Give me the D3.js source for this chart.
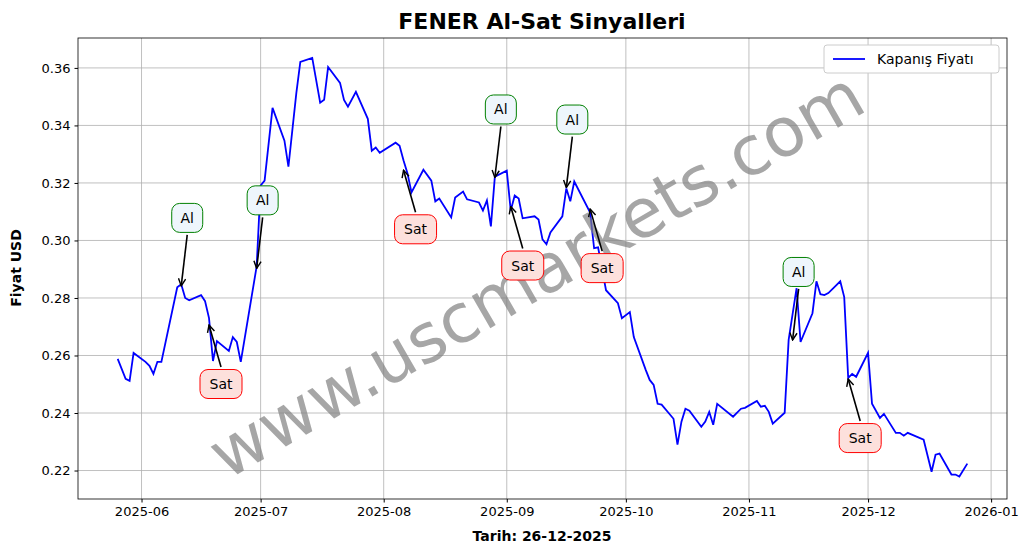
<!DOCTYPE html><html><head><meta charset="utf-8"><script src="https://cdn.jsdelivr.net/npm/d3@7"></script>
<style>body{margin:0;background:#fff}text{font-family:"DejaVu Sans",sans-serif}</style></head><body><svg id="c" width="1033" height="554"></svg>
<script>
const dates=["2025-05-26","2025-05-28","2025-05-29","2025-05-30","2025-06-02","2025-06-03","2025-06-04","2025-06-05","2025-06-06","2025-06-10","2025-06-11","2025-06-12","2025-06-13","2025-06-16","2025-06-17","2025-06-18","2025-06-19","2025-06-20","2025-06-23","2025-06-24","2025-06-25","2025-06-26","2025-06-30","2025-07-01","2025-07-02","2025-07-04","2025-07-07","2025-07-08","2025-07-10","2025-07-11","2025-07-14","2025-07-16","2025-07-17","2025-07-18","2025-07-21","2025-07-22","2025-07-23","2025-07-25","2025-07-28","2025-07-29","2025-07-30","2025-07-31","2025-08-04","2025-08-05","2025-08-06","2025-08-07","2025-08-08","2025-08-11","2025-08-13","2025-08-14","2025-08-15","2025-08-18","2025-08-19","2025-08-21","2025-08-22","2025-08-25","2025-08-26","2025-08-27","2025-08-28","2025-08-29","2025-09-01","2025-09-02","2025-09-03","2025-09-04","2025-09-05","2025-09-08","2025-09-09","2025-09-10","2025-09-11","2025-09-12","2025-09-15","2025-09-16","2025-09-17","2025-09-18","2025-09-22","2025-09-23","2025-09-24","2025-09-26","2025-09-29","2025-09-30","2025-10-02","2025-10-03","2025-10-06","2025-10-07","2025-10-08","2025-10-09","2025-10-10","2025-10-13","2025-10-14","2025-10-15","2025-10-16","2025-10-17","2025-10-20","2025-10-21","2025-10-22","2025-10-23","2025-10-24","2025-10-28","2025-10-30","2025-10-31","2025-11-03","2025-11-04","2025-11-05","2025-11-06","2025-11-07","2025-11-10","2025-11-11","2025-11-13","2025-11-14","2025-11-17","2025-11-18","2025-11-19","2025-11-20","2025-11-21","2025-11-24","2025-11-25","2025-11-26","2025-11-27","2025-11-28","2025-12-01","2025-12-02","2025-12-04","2025-12-05","2025-12-08","2025-12-09","2025-12-10","2025-12-11","2025-12-15","2025-12-17","2025-12-18","2025-12-19","2025-12-22","2025-12-23","2025-12-24","2025-12-26"];
const prices=[.2588,.2519,.2512,.2609,.2578,.2564,.2536,.2578,.2578,.2837,.2848,.2800,.2792,.2810,.2789,.2730,.2581,.2650,.2616,.2664,.2647,.2578,.2910,.3191,.3208,.3461,.3347,.3257,.3513,.3621,.3635,.3479,.3489,.3603,.3548,.3489,.3465,.3517,.3423,.3312,.3323,.3305,.3340,.3329,.3278,.3233,.3167,.3246,.3208,.3136,.3146,.3080,.3149,.3170,.3143,.3132,.3104,.3139,.3049,.3222,.3243,.3104,.3156,.3146,.3077,.3084,.3073,.3004,.2987,.3028,.3084,.3181,.3136,.3205,.3097,.2973,.2976,.2827,.2782,.2730,.2751,.2664,.2550,.2515,.2498,.2432,.2429,.2380,.2290,.2370,.2415,.2408,.2352,.2370,.2404,.2359,.2432,.2387,.2415,.2418,.2442,.2422,.2425,.2404,.2363,.2401,.2654,.2834,.2647,.2747,.2858,.2813,.2810,.2817,.2858,.2803,.2522,.2536,.2526,.2609,.2432,.2383,.2397,.2331,.2331,.2321,.2331,.2307,.2196,.2255,.2259,.2186,.2186,.2179,.2224];
const buyDates=["2025-06-11","2025-06-30","2025-08-29","2025-09-16","2025-11-12"];
const buyValues=[.2842,.2903,.3219,.3184,.2654];
const sellDates=["2025-06-18","2025-08-06","2025-09-02","2025-09-22","2025-11-26"];
const sellValues=[.2706,.3244,.3118,.3109,.2518];
const yTicks=[.22,.24,.26,.28,.30,.32,.34,.36];
const xTicks=["2025-06-01","2025-07-01","2025-08-01","2025-09-01","2025-10-01","2025-11-01","2025-12-01","2026-01-01"];
const P=d3.utcParse("%Y-%m-%d");
const svg=d3.select("#c");
const L=78,R=1007,T=38,B=499;
const x=d3.scaleUtc().domain([P("2025-05-16"),P("2026-01-05")]).range([L,R]);
const y=d3.scaleLinear().domain([0.2101,0.3704]).range([B,T]);
const g=svg.append("g");
g.selectAll(".gx").data(xTicks).enter().append("line").attr("x1",d=>x(P(d))).attr("x2",d=>x(P(d))).attr("y1",T).attr("y2",B).attr("stroke","#b0b0b0").attr("stroke-width",0.8);
g.selectAll(".gy").data(yTicks).enter().append("line").attr("y1",d=>y(d)).attr("y2",d=>y(d)).attr("x1",L).attr("x2",R).attr("stroke","#b0b0b0").attr("stroke-width",0.8);
const xa=svg.append("g").attr("transform",`translate(0,${B})`).call(d3.axisBottom(x).tickValues(xTicks.map(P)).tickFormat(d3.utcFormat("%Y-%m")).tickSizeOuter(0).tickSize(3.5).tickPadding(4));
const ya=svg.append("g").attr("transform",`translate(${L},0)`).call(d3.axisLeft(y).tickValues(yTicks).tickFormat(d3.format(".2f")).tickSizeOuter(0).tickSize(3.5).tickPadding(4));
[xa,ya].forEach(a=>{a.selectAll("text").attr("font-size",13).attr("fill","#000");a.select(".domain").remove();});
svg.append("rect").attr("x",L).attr("y",T).attr("width",R-L).attr("height",B-T).attr("fill","none").attr("stroke","#000").attr("stroke-width",0.8);
svg.append("text").attr("x",542).attr("y",29).attr("text-anchor","middle").attr("font-size",22).attr("font-weight","bold").text("FENER Al-Sat Sinyalleri");
svg.append("text").attr("x",542).attr("y",541).attr("text-anchor","middle").attr("font-size",14).attr("font-weight","bold").text("Tarih: 26-12-2025");
svg.append("text").attr("transform","translate(21,268) rotate(-90)").attr("text-anchor","middle").attr("font-size",14).attr("font-weight","bold").text("Fiyat USD");
const line=d3.line().x((d,i)=>x(P(dates[i]))).y(d=>y(d));
svg.append("path").attr("d",line(prices)).attr("fill","none").attr("stroke","#0000ff").attr("stroke-width",1.8);
svg.append("text").attr("x",548).attr("y",295).attr("text-anchor","middle").attr("font-size",68).attr("fill","#808080").attr("fill-opacity",0.7).attr("transform","rotate(-30,548,295)").text("www.uscmarkets.com");
svg.append("defs").append("marker").attr("id","ah").attr("viewBox","0 0 10 10").attr("refX",9).attr("refY",5).attr("markerWidth",9).attr("markerHeight",9).attr("orient","auto").attr("markerUnits","userSpaceOnUse").append("path").attr("d","M1,1 L9,5 L1,9").attr("fill","none").attr("stroke","#000").attr("stroke-width",1.6);
function ann(ds,vs,lab,dx,dy,stroke,fill,w){
 ds.forEach((d,i)=>{const px=x(P(d)),py=y(vs[i]);const lx=px+dx,ly=py+dy;
  const y0=dy<0?ly+17:ly-17;
  svg.append("line").attr("x1",lx).attr("y1",y0).attr("x2",px).attr("y2",py).attr("stroke","#000").attr("stroke-width",1.6).attr("marker-end","url(#ah)");
  svg.append("rect").attr("x",lx-w/2).attr("y",ly-14.5).attr("width",w).attr("height",29).attr("rx",8).attr("fill",fill).attr("stroke",stroke).attr("stroke-width",1);
  svg.append("text").attr("x",lx).attr("y",ly+5).attr("text-anchor","middle").attr("font-size",14).text(lab);});
}
ann(buyDates,buyValues,"Al",6,-68,"green","#eef6fc",31);
ann(sellDates,sellValues,"Sat",12,59,"red","#fde0dc",42);
const lg=svg.append("g");
lg.append("rect").attr("x",824).attr("y",45).attr("width",175).attr("height",28).attr("rx",3).attr("fill","#fff").attr("stroke","#ccc");
lg.append("line").attr("x1",833).attr("x2",865).attr("y1",59).attr("y2",59).attr("stroke","#0000ff").attr("stroke-width",1.8);
lg.append("text").attr("x",877).attr("y",64).attr("font-size",14).text("Kapanış Fiyatı");
</script></body></html>
